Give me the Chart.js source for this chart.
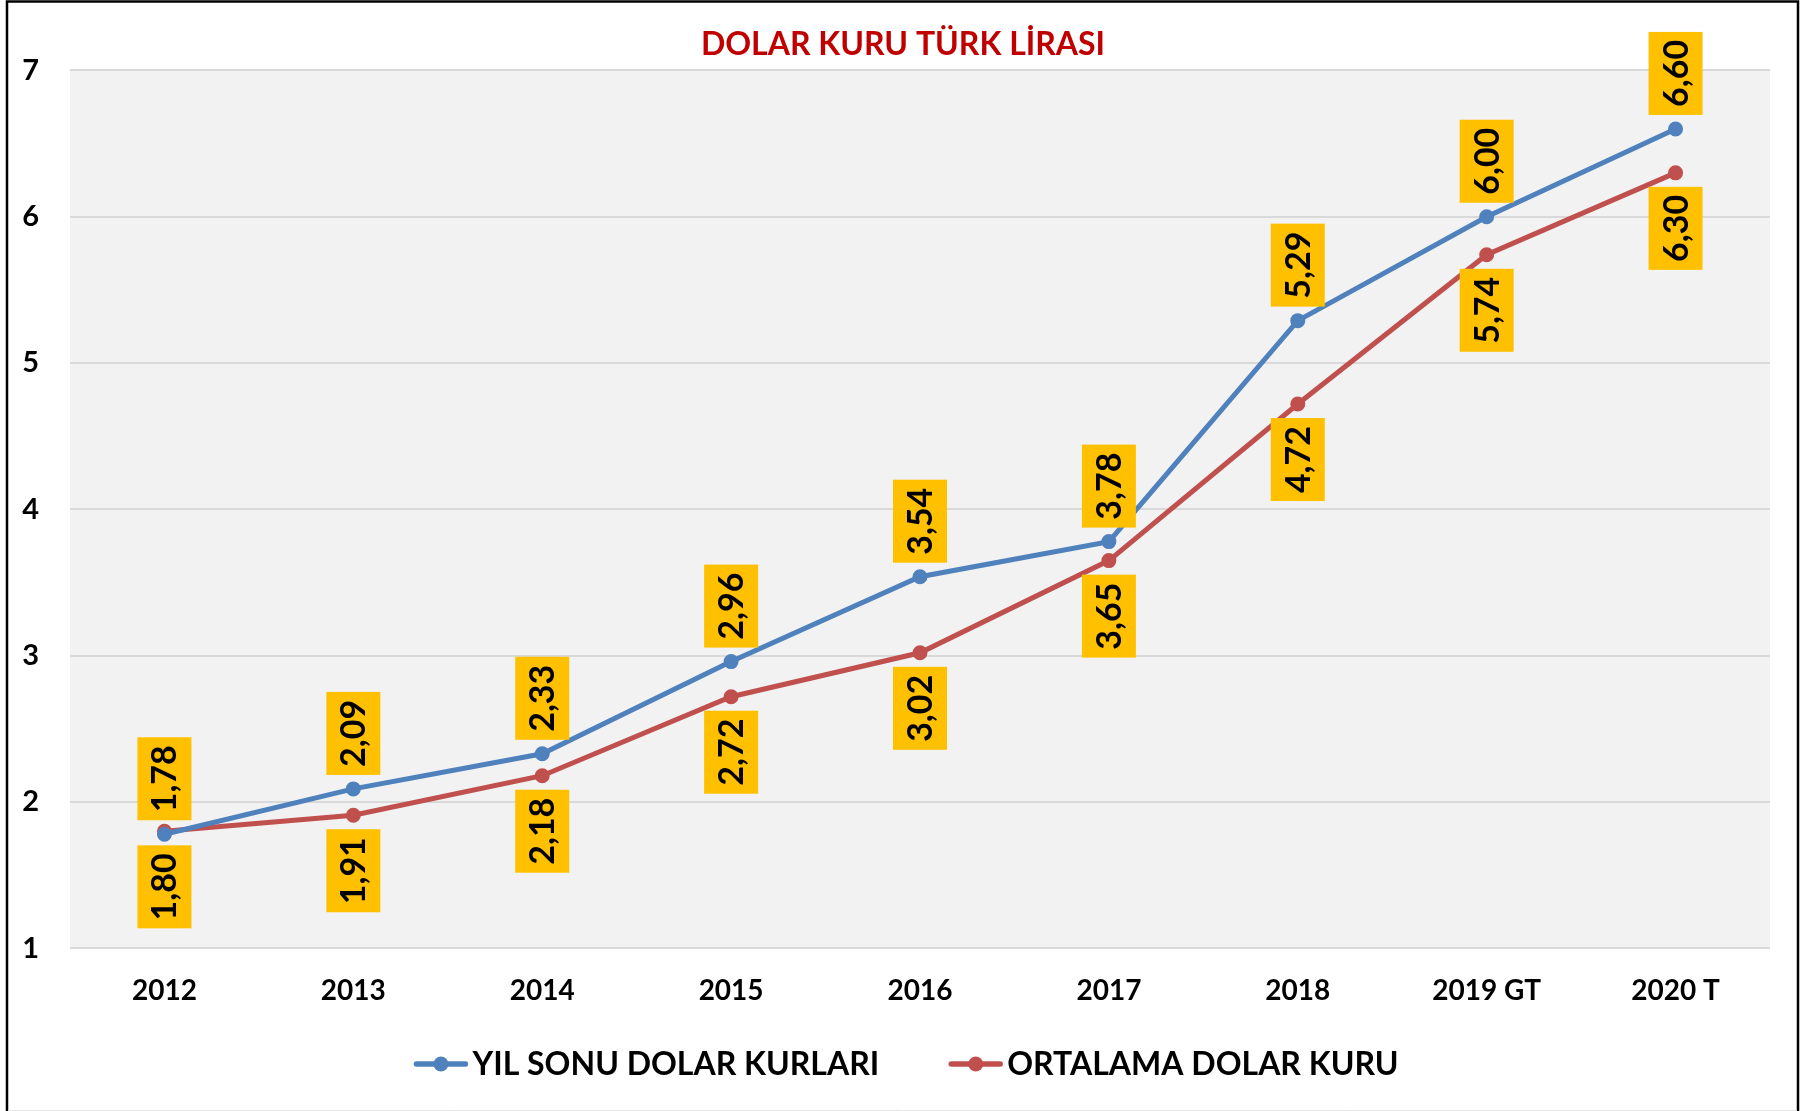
<!DOCTYPE html>
<html>
<head>
<meta charset="utf-8">
<script src="https://cdn.jsdelivr.net/npm/chart.js@4/dist/chart.umd.min.js"></script>
<style>
    body { margin: 0; background: #fff; }
    canvas { display: block; }
</style>
</head>
<body>
<canvas id="kurChart" width="1810" height="1111"></canvas>
<script>
const years = ['2012', '2013', '2014', '2015', '2016', '2017', '2018', '2019 GT', '2020 T']
const yilSonu = [1.78, 2.09, 2.33, 2.96, 3.54, 3.78, 5.29, 6.00, 6.60]
const ortalama = [1.80, 1.91, 2.18, 2.72, 3.02, 3.65, 4.72, 5.74, 6.30]
const yTicks = [1, 2, 3, 4, 5, 6, 7]

const BLUE = '#4F81BD'
const RED = '#C0504D'

Chart.defaults.font.family = 'Lato'

const frameAndBackground = {
    id: 'frameAndBackground',
    afterLayout(chart) {
        // center the title on the whole frame, not on the padded box
        const t = chart.titleBlock
        t.left = 0
        t.right = 1806
        t.width = 1806
    },
    beforeDraw(chart) {
        const { ctx, chartArea } = chart
        ctx.save()
        ctx.fillStyle = '#F2F2F2'
        ctx.fillRect(chartArea.left, chartArea.top, chartArea.right - chartArea.left, chartArea.bottom - chartArea.top)
        ctx.restore()
    },
    afterDraw(chart) {
        const ctx = chart.ctx
        ctx.save()
        ctx.strokeStyle = '#000'
        ctx.lineWidth = 2.5
        ctx.beginPath()
        ctx.moveTo(7, 1111)
        ctx.lineTo(7, 1.5)
        ctx.lineTo(1798, 1.5)
        ctx.lineTo(1798, 1111)
        ctx.stroke()
        ctx.strokeStyle = '#E6E6E6'
        ctx.lineWidth = 1
        ctx.beginPath()
        ctx.moveTo(8, 1110.5)
        ctx.lineTo(1797, 1110.5)
        ctx.stroke()
        ctx.restore()
    }
}

// Excel style legend: line with a dot, then the series name
const lineLegend = {
    id: 'lineLegend',
    afterDraw(chart) {
        const ctx = chart.ctx
        const iconW = 55, iconGap = 4, itemGap = 69, y = 1064
        ctx.save()
        ctx.font = 'bold 32px Lato'
        const widths = chart.data.datasets.map(ds => ctx.measureText(ds.label).width)
        let total = 0
        widths.forEach((w, i) => { total += iconW + iconGap + w + (i > 0 ? itemGap : 0) })
        let x = 906 - total / 2
        chart.data.datasets.forEach((ds, i) => {
            ctx.strokeStyle = ds.borderColor
            ctx.fillStyle = ds.borderColor
            ctx.lineWidth = 5.5
            ctx.lineCap = 'round'
            ctx.beginPath()
            ctx.moveTo(x + 3, y)
            ctx.lineTo(x + iconW - 3, y)
            ctx.stroke()
            ctx.beginPath()
            ctx.arc(x + iconW / 2, y, 7.5, 0, Math.PI * 2)
            ctx.fill()
            x += iconW + iconGap
            ctx.fillStyle = '#000'
            ctx.textAlign = 'left'
            ctx.textBaseline = 'middle'
            ctx.fillText(ds.label, x, y + 1)
            x += widths[i] + itemGap
        })
        ctx.restore()
    }
}

// yellow rotated value boxes, blue above the point, red below
const valueBoxes = {
    id: 'valueBoxes',
    afterDatasetsDraw(chart) {
        const ctx = chart.ctx
        const boxW = 54, boxH = 83, gap = 14
        ctx.save()
        chart.data.datasets.forEach((ds, i) => {
            const meta = chart.getDatasetMeta(i)
            meta.data.forEach((pt, j) => {
                const text = ds.data[j].toFixed(2).replace('.', ',')
                const top = i === 0 ? pt.y - gap - boxH : pt.y + gap
                ctx.fillStyle = '#FFC000'
                ctx.fillRect(pt.x - boxW / 2, top, boxW, boxH)
                ctx.save()
                ctx.translate(pt.x, top + boxH / 2)
                ctx.rotate(-Math.PI / 2)
                ctx.fillStyle = '#000'
                ctx.font = 'bold 34px Lato'
                ctx.textAlign = 'center'
                ctx.textBaseline = 'middle'
                ctx.fillText(text, 0, 1)
                ctx.restore()
            })
        })
        ctx.restore()
    }
}

const data = {
    labels: years,
    datasets: [{
        label: 'YIL SONU DOLAR KURLARI',
        data: yilSonu,
        borderColor: BLUE,
        backgroundColor: BLUE,
        borderWidth: 5,
        pointRadius: 6.5,
        pointBorderWidth: 2,
        pointBackgroundColor: BLUE,
        pointBorderColor: BLUE,
        tension: 0
    },
    {
        label: 'ORTALAMA DOLAR KURU',
        data: ortalama,
        borderColor: RED,
        backgroundColor: RED,
        borderWidth: 5,
        pointRadius: 6.5,
        pointBorderWidth: 2,
        pointBackgroundColor: RED,
        pointBorderColor: RED,
        tension: 0
    }]
}

const config = {
    type: 'line',
    data: data,
    options: {
        responsive: false,
        animation: false,
        events: [],
        layout: {
            padding: { left: 8, right: 40, top: 0, bottom: 77 }
        },
        plugins: {
            title: {
                display: true,
                text: 'DOLAR KURU TÜRK LİRASI',
                color: '#C00000',
                font: { size: 32, weight: 'bold' },
                padding: { top: 25, bottom: 7 }
            },
            legend: { display: false },
            tooltip: { enabled: false }
        },
        scales: {
            x: {
                offset: true,
                grid: { display: false, drawTicks: false },
                border: { display: false },
                ticks: {
                    color: '#000',
                    padding: 26,
                    maxRotation: 0,
                    font: { size: 28, weight: 'bold' }
                }
            },
            y: {
                min: yTicks[0],
                max: yTicks[yTicks.length - 1],
                afterFit(scale) { scale.width = 62 },
                afterBuildTicks(scale) { scale.ticks = yTicks.map(v => ({ value: v })) },
                grid: { color: '#D9D9D9', lineWidth: 2, drawTicks: false },
                border: { display: false },
                ticks: {
                    color: '#000',
                    padding: 31,
                    font: { size: 29, weight: 'bold' }
                }
            }
        }
    },
    plugins: [frameAndBackground, valueBoxes, lineLegend]
}

new Chart(document.getElementById('kurChart'), config)
</script>
</body>
</html>
